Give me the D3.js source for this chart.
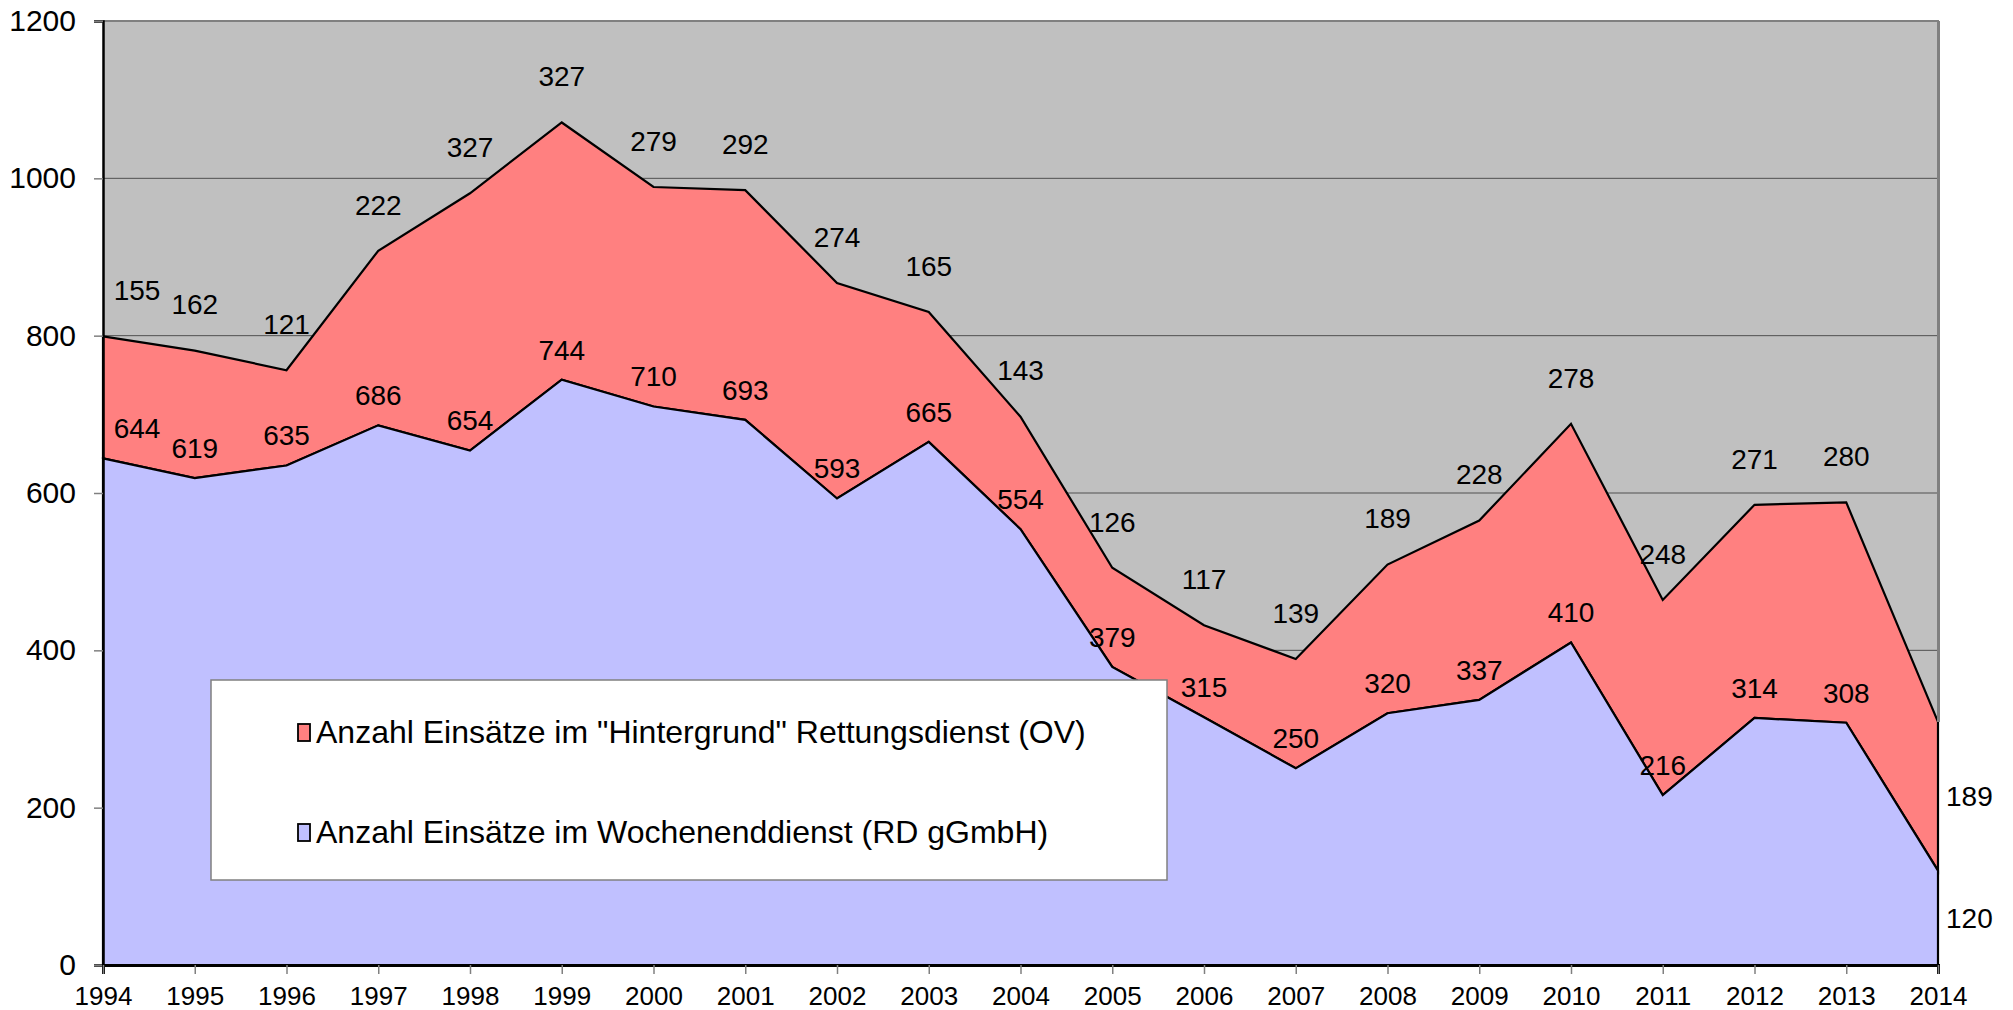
<!DOCTYPE html>
<html>
<head>
<meta charset="utf-8">
<script src="https://cdn.jsdelivr.net/npm/d3@7"></script>
<style>
    body { margin: 0; background: #fff; }
    svg { display: block; font-family: "Liberation Sans", Arial, sans-serif; }
</style>
</head>
<body>
<div id="chart"></div>
<script>
// Einsätze Rettungsdienst - gestapelte Flächen
const years = d3.range(1994, 2015);
const wochenend = [644, 619, 635, 686, 654, 744, 710, 693, 593, 665, 554, 379, 315, 250, 320, 337, 410, 216, 314, 308, 120];
const hintergrund = [155, 162, 121, 222, 327, 327, 279, 292, 274, 165, 143, 126, 117, 139, 189, 228, 278, 248, 271, 280, 189];
const yTicks = [0, 200, 400, 600, 800, 1000, 1200];
const seriesNames = [
    'Anzahl Einsätze im "Hintergrund" Rettungsdienst (OV)',
    "Anzahl Einsätze im Wochenenddienst (RD gGmbH)"
];

const width = 2013;
const height = 1010;
const margin = { top: 21, right: 75, bottom: 45, left: 103 };

const data = years.map((yr, i) => ({
    year: yr,
    blue: wochenend[i],
    red: hintergrund[i],
    total: wochenend[i] + hintergrund[i]
}));

const x = d3.scaleLinear()
    .domain([1994, 2014])
    .range([margin.left, width - margin.right]);

const y = d3.scaleLinear()
    .domain([0, 1200])
    .range([height - margin.bottom, margin.top]);

const svg = d3.select("#chart").append("svg")
    .attr("width", width)
    .attr("height", height);

// plot background
svg.append("rect")
    .attr("x", x(1994))
    .attr("y", y(1200))
    .attr("width", x(2014) - x(1994))
    .attr("height", y(0) - y(1200))
    .attr("fill", "#c0c0c0");

// gridlines
svg.append("g")
    .selectAll("line")
    .data(yTicks.filter(d => d > 0 && d < 1200))
    .join("line")
    .attr("x1", x(1994))
    .attr("x2", x(2014))
    .attr("y1", d => y(d))
    .attr("y2", d => y(d))
    .attr("stroke", "#505050")
    .attr("stroke-width", 1);

const redArea = d3.area()
    .x(d => x(d.year))
    .y0(d => y(d.blue))
    .y1(d => y(d.total));

const blueArea = d3.area()
    .x(d => x(d.year))
    .y0(y(0))
    .y1(d => y(d.blue));

svg.append("path")
    .datum(data)
    .attr("d", redArea)
    .attr("fill", "#ff8080")
    .attr("stroke", "#000")
    .attr("stroke-width", 2.2)
    .attr("stroke-linejoin", "miter");

svg.append("path")
    .datum(data)
    .attr("d", blueArea)
    .attr("fill", "#c0c0ff")
    .attr("stroke", "#000")
    .attr("stroke-width", 2.2)
    .attr("stroke-linejoin", "miter");

// plot frame (top / right in gray)
svg.append("line")
    .attr("x1", x(1994)).attr("x2", x(2014) + 1)
    .attr("y1", y(1200)).attr("y2", y(1200))
    .attr("stroke", "#808080").attr("stroke-width", 2);

svg.append("line")
    .attr("x1", x(2014) + 0.5).attr("x2", x(2014) + 0.5)
    .attr("y1", y(1200)).attr("y2", y(wochenend[20] + hintergrund[20]))
    .attr("stroke", "#808080").attr("stroke-width", 3);

// y axis
const yAxis = svg.append("g")
    .attr("transform", `translate(${x(1994)},0)`)
    .call(d3.axisLeft(y).tickValues(yTicks).tickSize(9).tickPadding(18).tickFormat(d3.format("d")));
yAxis.select(".domain").attr("stroke", "#000").attr("stroke-width", 2.5);
yAxis.selectAll(".tick line").attr("stroke", "#808080").attr("stroke-width", 1.5);
yAxis.selectAll(".tick text")
    .attr("fill", "#000")
    .style("font-size", "30px")
    .style("font-family", '"Liberation Sans", Arial, sans-serif');

// x axis
const xAxis = svg.append("g")
    .attr("transform", `translate(0,${y(0)})`)
    .call(d3.axisBottom(x).tickValues(years).tickSize(9).tickPadding(13).tickFormat(d3.format("d")));
xAxis.select(".domain").attr("stroke", "#000").attr("stroke-width", 3);
xAxis.selectAll(".tick line").attr("stroke", "#808080").attr("stroke-width", 1.5);
xAxis.selectAll(".tick text")
    .attr("fill", "#000")
    .style("font-size", "26px")
    .style("font-family", '"Liberation Sans", Arial, sans-serif');

// data labels
const labelSize = 28;
const minX = x(1994) + 34;
const last = data.length - 1;

const labels = svg.append("g")
    .style("font-size", labelSize + "px")
    .attr("fill", "#000");

data.forEach((d, i) => {
    if (i === last) {
        // last year: labels right of the plot, centred in their band
        labels.append("text")
            .attr("x", x(d.year) + 8)
            .attr("y", (y(d.blue) + y(d.total)) / 2)
            .attr("dy", "0.35em")
            .text(d.red);
        labels.append("text")
            .attr("x", x(d.year) + 8)
            .attr("y", (y(0) + y(d.blue)) / 2)
            .attr("dy", "0.35em")
            .text(d.blue);
        return;
    }
    labels.append("text")
        .attr("x", Math.max(x(d.year), minX))
        .attr("y", y(d.total) - 46)
        .attr("dy", "0.35em")
        .attr("text-anchor", "middle")
        .text(d.red);
    labels.append("text")
        .attr("x", Math.max(x(d.year), minX))
        .attr("y", y(d.blue) - 30)
        .attr("dy", "0.35em")
        .attr("text-anchor", "middle")
        .text(d.blue);
});

// legend
const legend = svg.append("g")
    .attr("transform", "translate(211,680)");

legend.append("rect")
    .attr("width", 956)
    .attr("height", 200)
    .attr("fill", "#fff")
    .attr("stroke", "#808080")
    .attr("stroke-width", 1.5);

const legendColors = ["#ff8080", "#c0c0ff"];
seriesNames.forEach((name, i) => {
    const g = legend.append("g")
        .attr("transform", `translate(0,${52 + i * 100})`);
    g.append("rect")
        .attr("x", 87)
        .attr("y", -8)
        .attr("width", 12)
        .attr("height", 17)
        .attr("fill", legendColors[i])
        .attr("stroke", "#000")
        .attr("stroke-width", 1.8);
    g.append("text")
        .attr("x", 105)
        .attr("y", 0)
        .attr("dy", "0.35em")
        .style("font-size", "32px")
        .text(name);
});
</script>
</body>
</html>
